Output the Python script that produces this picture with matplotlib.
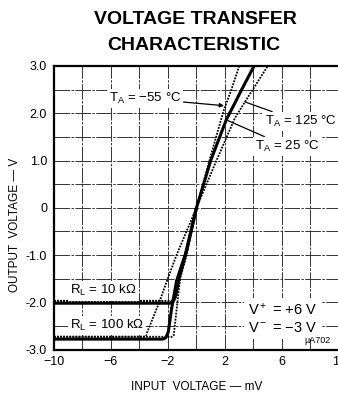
import numpy as np
import matplotlib.pyplot as plt

plt.rcParams['font.family'] = ['Liberation Sans', 'DejaVu Sans']

# ==============================
# Data
# ==============================
# T_A = 25 C, solid
x_25_10k = [-10, -1.85, -1.68, -1.55, -1.42, -1.25, -0.72, 0.0, 1.0, 2.1, 2.7, 3.17, 4.04]
y_25_10k = [-2.02, -2.02, -1.99, -1.93, -1.80, -1.52, -0.95, 0.0, 1.0, 1.87, 2.22, 2.5, 3.0]
x_25_100k = [-10, -2.35, -2.15, -1.98, -1.75, -1.4, -0.78, 0.0]
y_25_100k = [-2.78, -2.78, -2.75, -2.63, -2.14, -1.55, -0.98, 0.0]

# T_A = 125 C, dotted (shallow)
x_125_10k = [-10, -2.62, -2.55, -2.2, -1.4, 0.0, 1.4, 2.7, 3.4, 5.0]
y_125_10k = [-1.97, -1.97, -1.95, -1.65, -1.0, 0.0, 1.0, 1.9, 2.24, 3.0]
x_125_100k = [-10, -3.62, -3.52, -2.55]
y_125_100k = [-2.73, -2.73, -2.68, -1.95]

# T_A = -55 C, dotted (steep)
x_m55_10k = [-10, -1.65, -1.5, -1.4, -1.15, -0.7, 0.0, 1.0, 1.9, 2.45, 3.0]
y_m55_10k = [-1.97, -1.97, -1.94, -1.85, -1.5, -1.0, 0.0, 1.1, 2.05, 2.5, 3.0]
x_m55_100k = [-10, -1.72, -1.6, -1.45, -1.15]
y_m55_100k = [-2.73, -2.73, -2.7, -2.3, -1.5]

x_ticks = [-10, -6, -2, 2, 6, 10]
x_tick_labels = ["\u221210", "\u22126", "\u22122", "2", "6", "10"]
y_ticks = [3, 2, 1, 0, -1, -2, -3]
y_tick_labels = ["3.0", "2.0", "1.0", "0", "-1.0", "-2.0", "-3.0"]

# ==============================
# Figure
# ==============================
fig = plt.figure(figsize=(3.38, 3.97), dpi=100)
ax = fig.add_axes([54 / 338, 47.5 / 397, 285 / 338, 283.5 / 397])
ax.set_xlim(-10, 10)
ax.set_ylim(-3, 3)

# grid (every 2 mV, every 0.5 V)
grid_style = dict(color='0.2', linewidth=0.7, linestyle=(0, (16, 1.5, 2.5, 1.5)), zorder=1)
for gx in np.arange(-8, 10, 2):
    ax.axvline(gx, **grid_style)
for gy in np.arange(-2.5, 3.0, 0.5):
    ax.axhline(gy, **grid_style)

solid = dict(color='black', linewidth=2.2, solid_capstyle='round', zorder=4)
dotted = dict(color='black', linewidth=1.3, linestyle=(0, (1, 0.7)), zorder=3)

ax.plot(x_25_10k, y_25_10k, **solid)
ax.plot(x_25_100k, y_25_100k, **solid)
ax.plot(x_125_10k, y_125_10k, **dotted)
ax.plot(x_125_100k, y_125_100k, **dotted)
ax.plot(x_m55_10k, y_m55_10k, **dotted)
ax.plot(x_m55_100k, y_m55_100k, **dotted)

# labels on the curves
box = dict(facecolor='white', edgecolor='none', pad=1.5)
lab = dict(fontsize=9.5, zorder=6)

ax.annotate("T$\\mathregular{_A}$ = \u221255 \u00b0C", xy=(1.93, 2.16), xytext=(-3.6, 2.31),
            ha='center', va='center', bbox=box,
            arrowprops=dict(arrowstyle='-|>', color='black', lw=0.9,
                            mutation_scale=6, shrinkA=0, shrinkB=0), **lab)
ax.annotate("T$\\mathregular{_A}$ = 125 \u00b0C", xy=(3.4, 2.24), xytext=(7.3, 1.82),
            ha='center', va='center', bbox=box,
            arrowprops=dict(arrowstyle='-', color='black', lw=0.9, shrinkA=1, shrinkB=0), **lab)
ax.annotate("T$\\mathregular{_A}$ = 25 \u00b0C", xy=(2.16, 1.85), xytext=(6.4, 1.29),
            ha='center', va='center', bbox=box,
            arrowprops=dict(arrowstyle='-', color='black', lw=0.9, shrinkA=1, shrinkB=0), **lab)

ax.text(-6.55, -1.76, "R$\\mathregular{_L}$ = 10 k\u03a9", ha='center', va='center',
        bbox=box, **lab)
ax.text(-6.28, -2.49, "R$\\mathregular{_L}$ = 100 k\u03a9", ha='center', va='center',
        bbox=box, **lab)
ax.text(3.6, -2.16, "V$\\mathregular{^+}$ = +6 V", ha='left', va='center',
        bbox=dict(facecolor='white', edgecolor='none', pad=3), fontsize=10.5, zorder=6)
ax.text(3.6, -2.55, "V$\\mathregular{^-}$ = \u22123 V", ha='left', va='center',
        bbox=dict(facecolor='white', edgecolor='none', pad=3), fontsize=10.5, zorder=6)
ax.text(8.5, -2.81, "\u00b5A702", ha='center', va='center', fontsize=6.5, zorder=6)

# axes styling
ax.set_xticks(x_ticks)
ax.set_xticklabels(x_tick_labels)
ax.set_yticks(y_ticks)
ax.set_yticklabels(y_tick_labels)
ax.tick_params(length=0, labelsize=9, pad=5)
for side in ['left', 'bottom', 'top']:
    ax.spines[side].set_linewidth(1.6)
ax.spines['right'].set_linewidth(1.0)

ax.set_xlabel("INPUT  VOLTAGE \u2014 mV", fontsize=8.5, labelpad=9)
fig.text(15 / 338, 1 - 225 / 397, "OUTPUT  VOLTAGE \u2014 V", rotation=90,
         ha='center', va='center', fontsize=8.5)

fig.text(195 / 338, 1 - 20 / 397, "VOLTAGE TRANSFER", ha='center', va='center',
         fontsize=14, fontweight='bold')
fig.text(194 / 338, 1 - 45 / 397, "CHARACTERISTIC", ha='center', va='center',
         fontsize=14, fontweight='bold')

fig.savefig("out.png", dpi=100)
